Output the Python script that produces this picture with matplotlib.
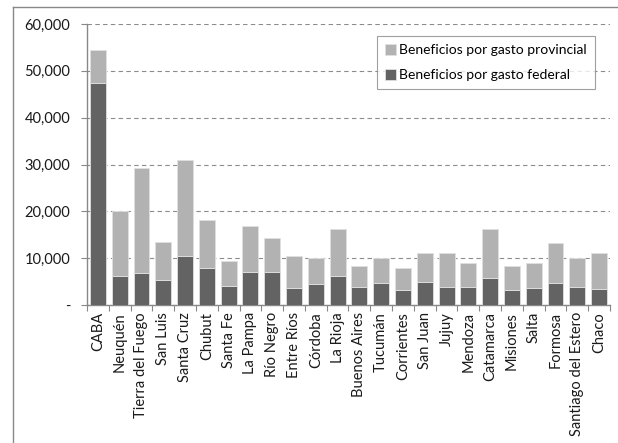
import matplotlib
matplotlib.use("Agg")
import matplotlib.pyplot as plt
from matplotlib.lines import Line2D
from matplotlib.ticker import FuncFormatter, FixedLocator

provincias = ["CABA", "Neuquén", "Tierra del Fuego", "San Luis", "Santa Cruz", "Chubut",
              "Santa Fe", "La Pampa", "Río Negro", "Entre Ríos", "Córdoba", "La Rioja",
              "Buenos Aires", "Tucumán", "Corrientes", "San Juan", "Jujuy", "Mendoza",
              "Catamarca", "Misiones", "Salta", "Formosa", "Santiago del Estero", "Chaco"]
federal = [47500, 6200, 6900, 5400, 10400, 8000, 4100, 7100, 7100, 3700, 4500, 6200,
           3900, 4800, 3200, 5000, 3900, 3900, 5700, 3200, 3700, 4800, 3900, 3500]
total = [54400, 20100, 29300, 13500, 31000, 18100, 9500, 16900, 14400, 10400, 10000, 16200,
         8300, 10000, 8000, 11200, 11000, 8900, 16200, 8300, 8900, 13200, 10000, 11000]
provincial = [t - f for t, f in zip(total, federal)]

plt.rcParams['font.family'] = ['Lato', 'DejaVu Sans']

fig = plt.figure(figsize=(6.18, 4.43), dpi=100)
ax = fig.add_axes([87/618, 1-305/443, (610-87)/618, (305-24)/443])

x = list(range(len(provincias)))
w = 0.73
ax.bar(x, federal, width=w, color='#636363', edgecolor='#e0e0e0', linewidth=0.6,
       label='Beneficios por gasto federal', zorder=3)
ax.bar(x, provincial, width=w, bottom=federal, color='#b2b2b2', edgecolor='#e0e0e0',
       linewidth=0.6, label='Beneficios por gasto provincial', zorder=3)

ax.set_xlim(-0.5, len(provincias) - 0.5)
ax.set_ylim(0, 60000)
ax.set_yticks(range(0, 60001, 10000))
ax.yaxis.set_major_formatter(FuncFormatter(lambda v, p: '-' if v == 0 else f'{int(v):,}'))
ax.grid(axis='y', color='#8c8c8c', linestyle=(0, (4, 3)), linewidth=0.8, zorder=0)

ax.set_xticks(x)
ax.set_xticklabels(provincias, rotation=90, fontsize=10.5, color='#1a1a1a')
ax.xaxis.set_minor_locator(FixedLocator([i - 0.5 for i in range(len(provincias) + 1)]))
ax.tick_params(axis='x', which='major', length=0, pad=5)
ax.tick_params(axis='x', which='minor', length=4, color='#888888', width=0.8)
ax.tick_params(axis='y', length=4, color='#888888', width=0.8, labelsize=10.5,
               labelcolor='#1a1a1a', pad=8)

for s in ['top', 'right']:
    ax.spines[s].set_visible(False)
for s in ['left', 'bottom']:
    ax.spines[s].set_color('#888888')
    ax.spines[s].set_linewidth(1.0)

handles, labels = ax.get_legend_handles_labels()
leg = ax.legend(handles[::-1], labels[::-1], loc='upper left',
                bbox_to_anchor=((377-87)/523, 1-(36-24)/281), fontsize=10,
                frameon=True, fancybox=False, edgecolor='#888888',
                handlelength=0.8, handleheight=0.8, handletextpad=0.2,
                borderpad=0.6, labelspacing=0.9, borderaxespad=0)
leg.get_frame().set_linewidth(0.8)

fig.add_artist(Line2D([12.5/618, 12.5/618], [0, 1-6.7/443], transform=fig.transFigure,
                      color='#888888', linewidth=1.0))
fig.add_artist(Line2D([12.5/618, 1], [1-6.7/443, 1-6.7/443], transform=fig.transFigure,
                      color='#888888', linewidth=1.0))

fig.savefig('out.png', dpi=100)
